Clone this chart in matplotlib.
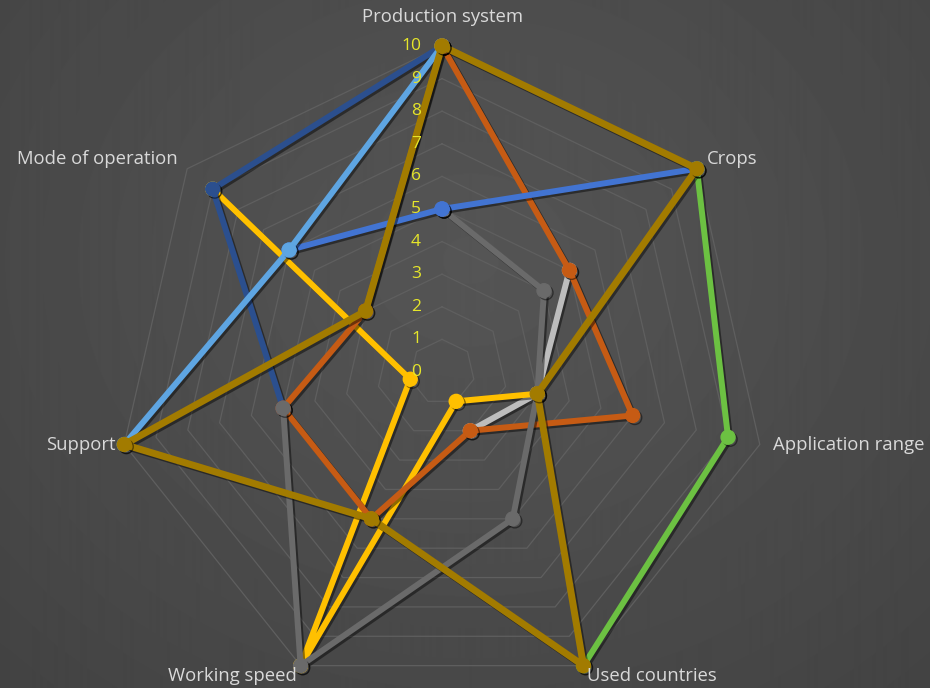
import numpy as np
import matplotlib.pyplot as plt
from matplotlib import patheffects as pe

plt.rcParams['font.family'] = ['Open Sans', 'DejaVu Sans']

# data (nan = no visible point)
nan = np.nan
categories = ["Production system", "Crops", "Application range", "Used countries",
              "Working speed", "Support", "Mode of operation"]
levels = [0, 1, 2, 3, 4, 5, 6, 7, 8, 9, 10]

blue = [5, 10, nan, nan, nan, nan, 6]
light_grey = [nan, 5, 3, 2, nan, nan, nan]
yellow = [nan, nan, 3, 1, 10, 1, 9]
light_blue = [10, nan, nan, nan, nan, 10, 6]
green = [nan, 10, 9, 10, nan, nan, nan]
dark_blue = [10, nan, nan, nan, nan, 5, 9]
orange = [10, 5, 6, 2, 5, 5, 3]
dark_grey = [5, 4, 3, 5, 10, 5, nan]
gold = [10, 10, 3, 10, 5, 10, 3]

# drawing order, bottom to top
series = [
    (light_grey, '#BDBDBD'),
    (yellow, '#FFC000'),
    (green, '#6CC142'),
    (dark_blue, '#2B4F8E'),
    (orange, '#C65B14'),
    (dark_grey, '#6A6A6A'),
    (blue, '#4274D2'),
    (light_blue, '#5EA5E2'),
    (gold, '#A27B00'),
]

fig = plt.figure(figsize=(9.3, 6.88), dpi=100)
fig.patch.set_facecolor('#474747')

# background: soft radial gradient
bg = fig.add_axes([0, 0, 1, 1])
yy, xx = np.mgrid[0:688, 0:930]
d = np.sqrt(((xx - 470) / 700.0) ** 2 + ((yy - 260) / 600.0) ** 2)
shade = 0.335 - 0.075 * np.clip(d, 0, 1)
bg.imshow(shade, cmap='gray', vmin=0, vmax=1, aspect='auto', extent=[0, 1, 0, 1])
bg.axis('off')

ax = fig.add_axes([0.1248, -0.0145, 0.701, 0.9477], projection='polar')
ax.set_facecolor('none')
ax.set_theta_offset(np.pi / 2)
ax.set_theta_direction(-1)
ax.set_ylim(0, 10)
ax.grid(False)
ax.spines['polar'].set_visible(False)
ax.set_xticks([])
ax.set_yticks([])

n = len(categories)
theta = np.linspace(0, 2 * np.pi, n, endpoint=False)
theta_c = np.append(theta, 2 * np.pi)

# heptagon gridlines
for lv in levels[1:]:
    ax.plot(theta_c, [lv] * (n + 1), color='#5F5F5F', lw=0.9, zorder=1, clip_on=False)

shadow = [pe.SimpleLineShadow(offset=(1.5, -1.5), shadow_color='black', alpha=0.45), pe.Normal()]
for k, (vals, col) in enumerate(series):
    v = np.append(vals, vals[0])
    lw = 5.0 if col == '#A27B00' else 4.3
    ax.plot(theta_c, v, color=col, lw=lw, marker='o', markersize=10,
            solid_capstyle='round', zorder=3 + k, clip_on=False, path_effects=shadow)

# value labels along the top axis
for lv in levels:
    ax.annotate(str(lv), xy=(0, lv), xytext=(-21, 0), textcoords='offset pixels',
                ha='right', va='center', color='#E6E62A', fontsize=12.5, zorder=20)

# category labels
offsets = [(0, 29, 'center'), (10, 10, 'left'), (13, 0, 'left'), (4, -10, 'left'),
           (-4, -10, 'right'), (-9, 0, 'right'), (-9, 10, 'right')]
for t, name, (ox, oy, ha) in zip(theta, categories, offsets):
    ax.annotate(name, xy=(t, 10), xytext=(ox, oy), textcoords='offset pixels',
                ha=ha, va='center', color='#D9D9D9', fontsize=13.3, zorder=20)

fig.savefig('out.png', dpi=100, facecolor=fig.get_facecolor())
